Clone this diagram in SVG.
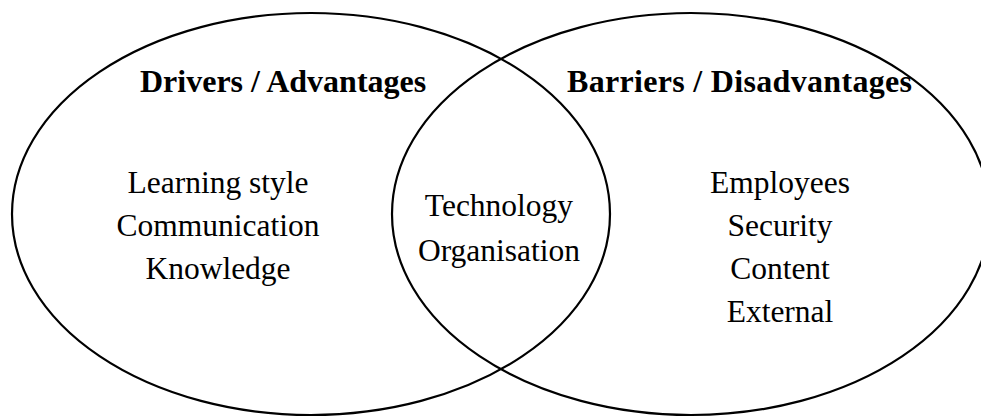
<svg xmlns="http://www.w3.org/2000/svg" width="981" height="417" viewBox="0 0 981 417">
  <style>
    .set { fill: none; stroke: #000; stroke-width: 2.2; }
    .head { font-family: "Liberation Serif", "Times New Roman", serif; font-weight: bold; font-size: 32px; fill: #000; }
    .item { font-family: "Liberation Serif", "Times New Roman", serif; font-size: 31.5px; fill: #000; text-anchor: middle; }
  </style>
  <rect width="981" height="417" fill="#fff"/>
  <g id="drivers">
    <ellipse class="set" cx="311" cy="214" rx="299" ry="201"/>
    <text class="head" x="140" y="92">Drivers / Advantages</text>
    <text class="item" x="218" y="193">Learning style</text>
    <text class="item" x="218" y="236">Communication</text>
    <text class="item" x="218" y="279">Knowledge</text>
  </g>
  <g id="barriers">
    <ellipse class="set" cx="691" cy="214" rx="299" ry="201"/>
    <text class="head" x="567" y="92" textLength="345" lengthAdjust="spacing">Barriers / Disadvantages</text>
    <text class="item" x="780" y="193">Employees</text>
    <text class="item" x="780" y="236">Security</text>
    <text class="item" x="780" y="279">Content</text>
    <text class="item" x="780" y="322">External</text>
  </g>
  <g id="overlap">
    <text class="item" x="499" y="216">Technology</text>
    <text class="item" x="499" y="261">Organisation</text>
  </g>
  <g id="connectors"/>
</svg>
